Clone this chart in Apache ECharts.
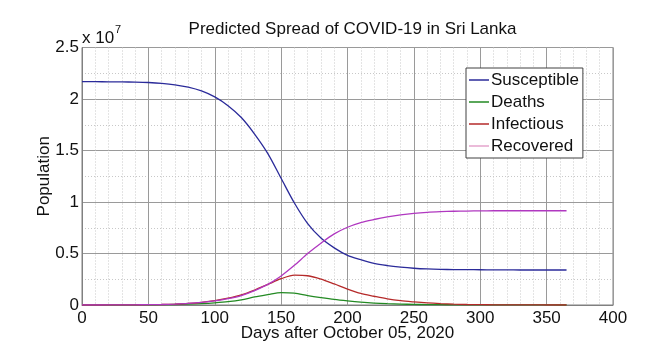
<!DOCTYPE html>
<html>
<head>
<meta charset="utf-8">
<script src="https://cdn.jsdelivr.net/npm/echarts@6/dist/echarts.min.js"></script>
<style>html,body{margin:0;padding:0;background:#fff}#c{width:652px;height:360px}</style>
</head>
<body>
<div id="c"></div>
<script>
// Days after October 05, 2020
const days = [0,10,20,30,40,50,60,70,80,90,100,110,120,130,140,150,160,170,180,190,200,210,220,230,240,250,260,270,280,290,300,310,320,330,340,350,360,365];
// Population values in units of 10^7
const susceptible = [2.168,2.168,2.167,2.166,2.164,2.160,2.152,2.138,2.115,2.078,2.020,1.935,1.820,1.660,1.470,1.230,0.990,0.790,0.650,0.555,0.482,0.440,0.404,0.383,0.368,0.357,0.350,0.346,0.344,0.343,0.342,0.341,0.341,0.340,0.340,0.340,0.340,0.340];
const deaths = [0,0,0.0003,0.0007,0.001,0.002,0.003,0.005,0.008,0.013,0.021,0.032,0.050,0.078,0.100,0.120,0.115,0.092,0.072,0.054,0.040,0.028,0.019,0.013,0.009,0.006,0.004,0.003,0.002,0.001,0.001,0.001,0.0005,0.0005,0.0003,0.0003,0.0002,0.0002];
const infectious = [0,0,0.0005,0.001,0.002,0.003,0.005,0.009,0.015,0.026,0.042,0.066,0.098,0.145,0.200,0.255,0.290,0.284,0.252,0.205,0.155,0.112,0.085,0.060,0.042,0.030,0.020,0.013,0.008,0.005,0.003,0.002,0.001,0.0005,0.0003,0.0002,0.0001,0.0001];
const recovered = [0,0,0.0005,0.001,0.002,0.003,0.005,0.009,0.015,0.025,0.040,0.062,0.092,0.140,0.200,0.282,0.385,0.500,0.600,0.690,0.755,0.800,0.830,0.855,0.875,0.890,0.900,0.906,0.910,0.912,0.914,0.915,0.915,0.915,0.915,0.915,0.915,0.915];
const seriesNames = ['Susceptible','Deaths','Infectious','Recovered'];
const xTicks = [0,50,100,150,200,250,300,350,400];
const yTicks = [0,0.5,1,1.5,2,2.5];

const FONT = 'Liberation Sans, Arial, sans-serif';
const colors = ['#2b2b9a','#238a23','#b52a2a','#b038c0'];
const legendColors = ['#2b2b9a','#238a23','#b52a2a','#e4a4cc'];
const pairs = arr => days.map((d,i)=>[d,arr[i]]);
const allData = [susceptible, deaths, infectious, recovered];

const chart = echarts.init(document.getElementById('c'), null, {renderer:'canvas'});
chart.setOption({
  backgroundColor:'#fff',
  animation:false,
  textStyle:{fontFamily:FONT},
  title:{
    text:'Predicted Spread of COVID-19 in Sri Lanka',
    left:347.5, textAlign:'center', top:16,
    textStyle:{fontFamily:FONT,fontSize:17,fontWeight:'normal',color:'#111'}
  },
  grid:{left:82,right:39,top:47.5,bottom:55,show:true,borderColor:'#808080',borderWidth:1,backgroundColor:'transparent'},
  legend:{
    orient:'vertical', left:466, top:68, width:116,
    backgroundColor:'#fff', borderColor:'#404040', borderWidth:1,
    padding:[2,4,2,3], itemGap:2, itemWidth:20, itemHeight:1.5, icon:'rect',
    textStyle:{fontFamily:FONT,fontSize:17,color:'#111',lineHeight:20,padding:[0,0,0,-3]},
    data:seriesNames.map((n,i)=>({name:n, itemStyle:{color:legendColors[i]}}))
  },
  xAxis:{
    type:'value', min:xTicks[0], max:xTicks[xTicks.length-1], interval:50,
    name:'Days after October 05, 2020', nameLocation:'middle', nameGap:20, nameMoveOverlap:false,
    nameTextStyle:{fontFamily:FONT,fontSize:17,color:'#111'},
    axisLine:{show:true,lineStyle:{color:'#808080'}},
    axisTick:{show:false},
    axisLabel:{fontFamily:FONT,fontSize:17,color:'#111',margin:5},
    splitLine:{show:true,lineStyle:{color:'#9a9a9a',width:1}},
    minorTick:{show:true,splitNumber:5,length:0},
    minorSplitLine:{show:true,lineStyle:{color:'#c8c8c8',type:[1,2],width:1}}
  },
  yAxis:{
    type:'value', min:yTicks[0], max:yTicks[yTicks.length-1], interval:0.5,
    name:'Population', nameLocation:'middle', nameGap:29.5, nameMoveOverlap:false,
    nameTextStyle:{fontFamily:FONT,fontSize:17,color:'#111'},
    axisLine:{show:true,lineStyle:{color:'#808080'}},
    axisTick:{show:false},
    axisLabel:{fontFamily:FONT,fontSize:17,color:'#111',margin:3,padding:[3,0,0,0]},
    splitLine:{show:true,lineStyle:{color:'#9a9a9a',width:1}},
    minorTick:{show:true,splitNumber:2,length:0},
    minorSplitLine:{show:true,lineStyle:{color:'#c8c8c8',type:[1,2],width:1}}
  },
  graphic:[
    {type:'text', left:82, top:30, style:{text:'x 10', fontFamily:FONT, fontSize:17, fill:'#111'}},
    {type:'text', left:115, top:24, style:{text:'7', fontFamily:FONT, fontSize:11, fill:'#111'}}
  ],
  series: seriesNames.map((n,i)=>({
    name:n, type:'line', data:pairs(allData[i]), smooth:0.3, symbol:'none',
    lineStyle:{color:colors[i],width:1.3}, itemStyle:{color:colors[i]}, z:2+i
  }))
});
</script>
</body>
</html>
